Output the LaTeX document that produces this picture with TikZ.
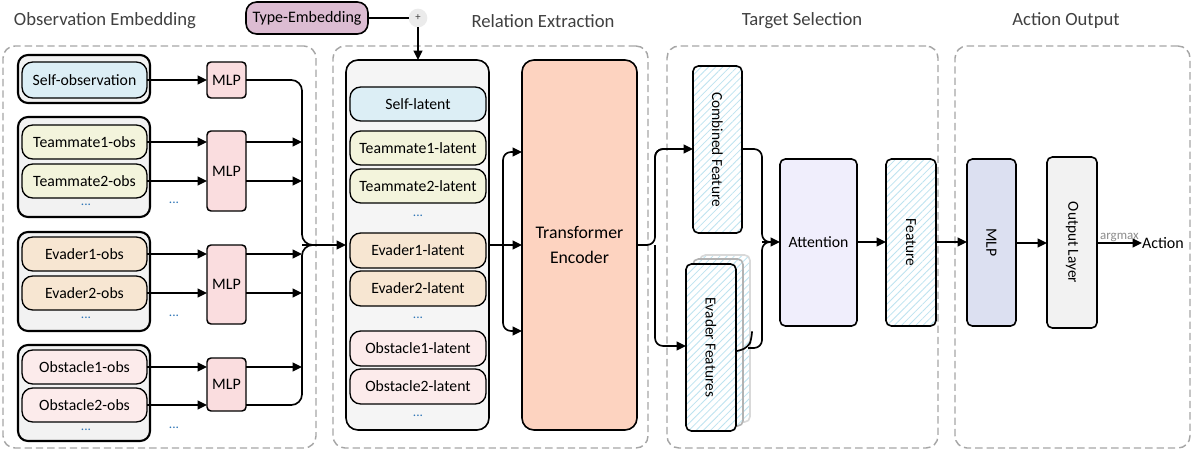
\documentclass[tikz,border=0pt]{standalone}
\usepackage{fontspec}
\setmainfont{Carlito}
\usetikzlibrary{arrows.meta,patterns.meta,calc}
\definecolor{contc}{HTML}{A6A6A6}
\definecolor{titlec}{HTML}{404040}
\definecolor{grpc}{HTML}{F2F2F2}
\definecolor{selfc}{HTML}{DCEEF5}
\definecolor{teamc}{HTML}{F3F4DC}
\definecolor{evac}{HTML}{F7E6D2}
\definecolor{obstc}{HTML}{FCEBEB}
\definecolor{mlpc}{HTML}{FADDDF}
\definecolor{latc}{HTML}{F5F5F5}
\definecolor{trfc}{HTML}{FDD3C0}
\definecolor{attc}{HTML}{F0EEFC}
\definecolor{mlpbc}{HTML}{DCE0F1}
\definecolor{outc}{HTML}{F2F2F2}
\definecolor{hatchc}{HTML}{BDE3F0}
\definecolor{dotc}{HTML}{2E75B6}
\definecolor{typec}{HTML}{DCBCD2}
\definecolor{plusc}{HTML}{EBEBEB}
\newcommand\bx[7]{\node[#2, minimum width={(#5-#3)*0.75pt}, minimum height={(#6-#4)*0.75pt}] (#1) at ({(#3+#5)/2},{(#4+#6)/2}) {#7};}
\begin{document}
\begin{tikzpicture}[x=0.75pt,y=-0.75pt,
  every node/.style={inner sep=0pt, outer sep=0pt},
  cont/.style={draw=contc, dash pattern=on 5.5pt off 3pt, line width=1.1pt, rounded corners=9pt, fill=white},
  ttl/.style={text=titlec, font=\fontsize{14}{16}\selectfont},
  grp/.style={draw=black, line width=1.6pt, fill=grpc, rounded corners=7.5pt},
  obsb/.style={draw=black, line width=1pt, rounded corners=8pt, font=\fontsize{11.8}{14}\selectfont},
  mlpb/.style={draw=black, line width=1.1pt, fill=mlpc, rounded corners=3pt, font=\fontsize{12}{14}\selectfont},
  tall/.style={draw=black, line width=1.2pt, rounded corners=4pt},
  hatch/.style={preaction={fill=white}, pattern={Lines[angle=45,distance=3.8pt,line width=0.6pt]}, pattern color=hatchc},
  rtxt/.style={rotate=-90, font=\fontsize{11.5}{13}\selectfont},
  arr/.style={-{Triangle[length=7pt,width=6.5pt]}, line width=1.25pt},
  ln/.style={line width=1.25pt},
  dotsn/.style={text=dotc, font=\fontsize{10}{12}\selectfont}]
\useasboundingbox (0,0) rectangle (1204,453);

% containers
\bx{c1}{cont}{3}{46}{316}{448}{}
\bx{c2}{cont}{333}{46}{648}{448}{}
\bx{c3}{cont}{667}{46}{938}{448}{}
\bx{c4}{cont}{955}{46}{1190}{448}{}
\node[ttl] (t1) at (105,21) {Observation Embedding};
\node[ttl] (t2) at (543,21) {Relation Extraction};
\node[ttl] (t3) at (802,21) {Target Selection};
\node[ttl] (t4) at (1066,21) {Action Output};

% type embedding
\bx{te}{draw=black, line width=1.2pt, fill=typec, rounded corners=8pt, font=\fontsize{12}{14}\selectfont}{246}{2}{368}{34}{Type-Embedding}
\node[circle, fill=plusc, minimum size=14pt, font=\fontsize{8}{9}\selectfont, text=titlec] (plus) at (418,18) {+};

% observation groups
\bx{gS}{grp}{18}{55}{150}{103}{}
\bx{gT}{grp}{18}{117}{150}{217}{}
\bx{gE}{grp}{18}{232}{150}{331}{}
\bx{gO}{grp}{18}{345}{150}{441}{}
\bx{so}{obsb, fill=selfc}{22}{62}{147}{98}{Self-observation}
\bx{tm1}{obsb, fill=teamc}{22}{125}{147}{159}{Teammate1-obs}
\bx{tm2}{obsb, fill=teamc}{22}{164}{147}{198}{Teammate2-obs}
\bx{ev1}{obsb, fill=evac}{22}{237}{147}{271}{Evader1-obs}
\bx{ev2}{obsb, fill=evac}{22}{276}{147}{310}{Evader2-obs}
\bx{ob1}{obsb, fill=obstc}{22}{350}{147}{384}{Obstacle1-obs}
\bx{ob2}{obsb, fill=obstc}{22}{388}{147}{422}{Obstacle2-obs}
\node[dotsn] (d1) at (86,205) {...};
\node[dotsn] (d2) at (86,318) {...};
\node[dotsn] (d3) at (86,430) {...};
\node[dotsn] (d4) at (174,203) {...};
\node[dotsn] (d5) at (174,316) {...};
\node[dotsn] (d6) at (174,428) {...};

\bx{mS}{mlpb}{207}{62}{246}{98}{MLP}
\bx{mT}{mlpb}{207}{131}{246}{211}{MLP}
\bx{mE}{mlpb}{207}{245}{246}{324}{MLP}
\bx{mO}{mlpb}{207}{358}{246}{411}{MLP}

\draw[arr] (so.east) -- (mS.west);
\draw[arr] (tm1.east) -- (tm1.east -| mT.west);
\draw[arr] (tm2.east) -- (tm2.east -| mT.west);
\draw[arr] (ev1.east) -- (ev1.east -| mE.west);
\draw[arr] (ev2.east) -- (ev2.east -| mE.west);
\draw[arr] (ob1.east) -- (ob1.east -| mO.west);
\draw[arr] (ob2.east) -- (ob2.east -| mO.west);

% latent container
\bx{lat}{draw=black, line width=1.2pt, fill=latc, rounded corners=9pt}{346}{60}{489}{430}{}
\bx{sl}{obsb, fill=selfc}{350}{87}{486}{121}{Self-latent}
\bx{t1l}{obsb, fill=teamc}{350}{131}{486}{165}{Teammate1-latent}
\bx{t2l}{obsb, fill=teamc}{350}{169}{486}{203}{Teammate2-latent}
\bx{e1l}{obsb, fill=evac}{350}{233}{486}{268}{Evader1-latent}
\bx{e2l}{obsb, fill=evac}{350}{271}{486}{306}{Evader2-latent}
\bx{o1l}{obsb, fill=obstc}{350}{331}{486}{366}{Obstacle1-latent}
\bx{o2l}{obsb, fill=obstc}{350}{369}{486}{404}{Obstacle2-latent}
\node[dotsn] (d7) at (418,216) {...};
\node[dotsn] (d8) at (418,318) {...};
\node[dotsn] (d9) at (418,416) {...};

% type embedding connection
\draw[ln] (te.east) -- (plus.west);
\draw[arr] (plus.south) -- (lat.north -| plus.south);

% observation bus
\coordinate (jb) at (302,245);
\draw[ln, rounded corners=8pt] (mS.east) -- (302,80) -- (jb) -- (314,245);
\draw[ln, rounded corners=8pt] (mO.east |- 0,405) -- (302,405) -- (jb) -- (314,245);
\draw[arr] (mT.east |- tm1.east) -- (tm1.east -| jb);
\draw[arr] (mT.east |- tm2.east) -- (tm2.east -| jb);
\draw[arr] (mE.east |- ev1.east) -- (ev1.east -| jb);
\draw[arr] (mE.east |- ev2.east) -- (ev2.east -| jb);
\draw[arr] (mO.east |- ob1.east) -- (ob1.east -| jb);
\draw[arr] (jb) -- (lat.west |- jb);

% transformer
\bx{trf}{draw=black, line width=1.2pt, fill=trfc, rounded corners=9pt, align=center, font=\fontsize{13.3}{19}\selectfont}{522}{60}{637}{430}{Transformer\\Encoder}
\coordinate (jt) at (503,245);
\draw[arr] (lat.east |- jt) -- (trf.west |- jt);
\draw[arr, rounded corners=6pt] (jt) -- (503,152) -- (trf.west |- 0,152);
\draw[arr, rounded corners=6pt] (jt) -- (503,331) -- (trf.west |- 0,331);

% target selection
\bx{eb2}{tall, draw=black!15, hatch}{700}{255}{750}{422}{}
\bx{eb1}{tall, draw=black!30, hatch}{693}{259}{743}{426}{}
\bx{ef}{tall, hatch}{686}{264}{736}{431}{}
\node[rtxt] (eft) at (ef.center) {Evader Features};
\bx{cf}{tall, hatch}{693}{66}{742}{233}{}
\node[rtxt] (cft) at (cf.center) {Combined Feature};
\bx{att}{tall, fill=attc, font=\fontsize{11.8}{13}\selectfont}{780}{159}{857}{326}{Attention}
\bx{ft}{tall, hatch}{886}{159}{936}{326}{}
\node[rtxt] (ftt) at (ft.center) {Feature};

\coordinate (jo) at (655,245);
\draw[ln, rounded corners=6pt] (trf.east |- jo) -- (jo) -- (655,149) -- (664,149);
\draw[arr, rounded corners=6pt] (655,200) -- (655,149) -- (cf.west |- 0,149);
\draw[arr, rounded corners=6pt] (jo) -- (655,346) -- (ef.west |- 0,346);

\coordinate (ja) at (762,242);
\draw[ln, rounded corners=6pt] (cf.east |- 0,149) -- (762,149) -- (ja) -- (770,242);
\draw[ln, rounded corners=5pt] (737,351) -- (748,348) -- (752,338) -- (752,333);
\draw[ln, rounded corners=6pt] (748,348) -- (762,348) -- (ja) -- (770,242);
\draw[arr] (ja) -- (att.west |- ja);
\draw[arr] (att.east |- ja) -- (ft.west |- ja);

% action output
\bx{m2}{tall, fill=mlpbc}{967}{159}{1016}{326}{}
\node[rtxt, font=\fontsize{11.8}{13}\selectfont] (m2t) at (m2.center) {MLP};
\bx{ol}{tall, fill=outc}{1047}{157}{1097}{328}{}
\node[rtxt] (olt) at (ol.center) {Output Layer};
\node[anchor=west, font=\fontsize{12}{14}\selectfont] (act) at (1142,243) {Action};
\draw[arr] (ft.east |- ja) -- (m2.west |- ja);
\draw[arr] (m2.east |- 0,243) -- (ol.west |- 0,243);
\draw[arr] (ol.east |- 0,243) -- node[above=1pt, text=black!45, font=\fontsize{9.7}{11}\selectfont] {argmax} (act.west);
\end{tikzpicture}
\end{document}
